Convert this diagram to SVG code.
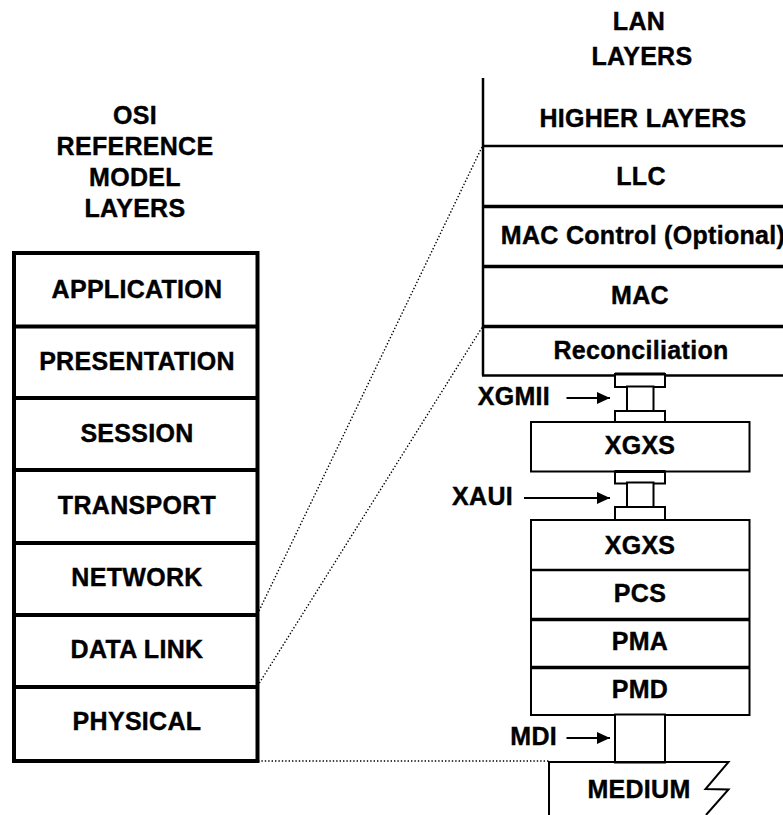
<svg xmlns="http://www.w3.org/2000/svg" width="783" height="815" viewBox="0 0 783 815">
<defs>
<style>
text{font-family:"Liberation Sans",Arial,sans-serif;font-weight:bold;font-size:25px;letter-spacing:0.3px;fill:#000;stroke:#000;stroke-width:0.4px;text-anchor:middle}
.lbl{text-anchor:end}
.osi{fill:#fff;stroke:#000;stroke-width:4}
.ln{stroke:#000;fill:none}
.box{fill:#fff;stroke:#000;stroke-width:2}
.dot{stroke:#000;stroke-width:1.4;stroke-dasharray:1.4 2;fill:none}
</style>
<marker id="ah" viewBox="0 0 13 12" refX="13" refY="6" markerWidth="13" markerHeight="12" markerUnits="userSpaceOnUse" orient="auto">
<path d="M0,0 L13,6 L0,12 Z" fill="#000"/>
</marker>
</defs>
<rect width="783" height="815" fill="#fff"/>

<g id="osi-title">
<text x="135" y="124">OSI</text>
<text x="135" y="155">REFERENCE</text>
<text x="135" y="186">MODEL</text>
<text x="135" y="217">LAYERS</text>
</g>
<g id="lan-title">
<text x="639" y="30">LAN</text>
<text x="642" y="65">LAYERS</text>
</g>

<g id="osi-stack">
<rect class="osi" x="14" y="253" width="243.5" height="508"/>
<g id="osi-application"><text x="137" y="297.5">APPLICATION</text></g>
<line class="ln" stroke-width="4" x1="14" y1="326.5" x2="257.5" y2="326.5"/>
<g id="osi-presentation"><text x="137" y="370">PRESENTATION</text></g>
<line class="ln" stroke-width="4" x1="14" y1="398" x2="257.5" y2="398"/>
<g id="osi-session"><text x="137" y="441.5">SESSION</text></g>
<line class="ln" stroke-width="4" x1="14" y1="470" x2="257.5" y2="470"/>
<g id="osi-transport"><text x="137" y="514">TRANSPORT</text></g>
<line class="ln" stroke-width="4" x1="14" y1="543" x2="257.5" y2="543"/>
<g id="osi-network"><text x="137" y="585.5">NETWORK</text></g>
<line class="ln" stroke-width="4" x1="14" y1="615" x2="257.5" y2="615"/>
<g id="osi-datalink"><text x="137" y="657.5">DATA LINK</text></g>
<line class="ln" stroke-width="4" x1="14" y1="687" x2="257.5" y2="687"/>
<g id="osi-physical"><text x="137" y="730">PHYSICAL</text></g>
</g>

<g id="lan-stack">
<line class="ln" stroke-width="2.5" x1="483" y1="78" x2="483" y2="375.5"/>
<g id="lan-higher"><text x="643" y="126.5">HIGHER LAYERS</text></g>
<line class="ln" stroke-width="2.5" x1="482" y1="146" x2="783" y2="146"/>
<g id="lan-llc"><text x="641" y="185">LLC</text></g>
<line class="ln" stroke-width="3.5" x1="482" y1="206.5" x2="783" y2="206.5"/>
<g id="lan-maccontrol"><text x="643" y="243.5">MAC Control (Optional)</text></g>
<line class="ln" stroke-width="3.5" x1="482" y1="266.5" x2="783" y2="266.5"/>
<g id="lan-mac"><text x="640" y="303.5">MAC</text></g>
<line class="ln" stroke-width="3.5" x1="482" y1="326.5" x2="783" y2="326.5"/>
<g id="lan-reconciliation"><text x="641" y="358.5">Reconciliation</text></g>
<line class="ln" stroke-width="2.5" x1="482" y1="375.5" x2="783" y2="375.5"/>
</g>

<g id="xgmii-connector">
<rect class="box" x="615" y="374" width="50" height="13"/>
<line class="ln" stroke-width="3" x1="615" y1="374" x2="665" y2="374"/>
<rect class="box" x="627" y="386.5" width="26.5" height="25" stroke-width="3"/>
<rect class="box" x="615" y="411" width="50" height="11"/>
</g>
<g id="xgxs-1">
<rect class="box" x="531" y="422" width="218.5" height="49.5"/>
<text x="640" y="453.5">XGXS</text>
</g>
<g id="xaui-connector">
<rect class="box" x="615" y="471.5" width="50" height="12"/>
<line class="ln" stroke-width="3" x1="615" y1="471.5" x2="665" y2="471.5"/>
<rect class="box" x="627" y="482.5" width="26.5" height="24.5" stroke-width="3"/>
<rect class="box" x="615" y="507" width="50" height="13"/>
</g>
<g id="phy-stack">
<rect class="box" x="531" y="520" width="218.5" height="195"/>
<g id="xgxs-2"><text x="640" y="553.5">XGXS</text></g>
<line class="ln" stroke-width="2.5" x1="531" y1="570" x2="749.5" y2="570"/>
<g id="pcs"><text x="640" y="601.5">PCS</text></g>
<line class="ln" stroke-width="3.5" x1="531" y1="619.5" x2="749.5" y2="619.5"/>
<g id="pma"><text x="640" y="650">PMA</text></g>
<line class="ln" stroke-width="3.5" x1="531" y1="667.5" x2="749.5" y2="667.5"/>
<g id="pmd"><text x="640" y="697.5">PMD</text></g>
</g>
<g id="mdi-connector">
<rect class="box" x="615" y="714.5" width="50" height="48" stroke-width="2.5"/>
</g>
<g id="medium">
<path class="ln" stroke-width="2" d="M549,815 V762 H728.5 L705.5,789 L728.5,789.5 L706,815"/>
<text x="639" y="798">MEDIUM</text>
</g>

<g id="labels">
<text class="lbl" x="550" y="405">XGMII</text>
<text class="lbl" x="513" y="505">XAUI</text>
<text class="lbl" x="557" y="745">MDI</text>
</g>

<g id="connectors">
<line class="dot" x1="257.5" y1="614" x2="482" y2="147"/>
<line class="dot" x1="257.5" y1="686" x2="482" y2="327.5"/>
<line class="dot" x1="258" y1="761" x2="549" y2="761"/>
<line class="ln" stroke-width="2" x1="566.5" y1="398" x2="610" y2="398" marker-end="url(#ah)"/>
<line class="ln" stroke-width="2" x1="524" y1="498" x2="610" y2="498" marker-end="url(#ah)"/>
<line class="ln" stroke-width="2" x1="566.5" y1="738" x2="610" y2="738" marker-end="url(#ah)"/>
</g>
</svg>
